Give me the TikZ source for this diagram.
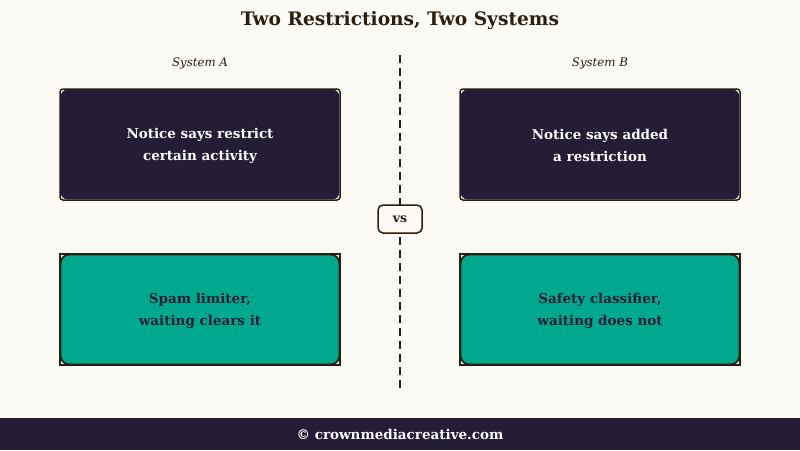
\documentclass[tikz,border=0pt]{standalone}
\usepackage{fontspec}
\setmainfont{DejaVu Serif}
\definecolor{cream}{HTML}{FDFBF6}
\definecolor{ink}{HTML}{2B1E0F}
\definecolor{navy}{HTML}{241D35}
\definecolor{teal}{HTML}{00A88E}
\tikzset{
  outerframe/.style={draw=ink, line width=1.2pt},
  darkframe/.style={draw=ink, line width=1.5pt, rounded corners=3pt},
  darkbox/.style={fill=navy, rounded corners=7pt},
  greenbox/.style={fill=teal, draw=ink, line width=1.8pt, rounded corners=9pt},
  boxtext/.style={align=center, font=\bfseries\fontsize{13.5}{22}\selectfont},
  syslabel/.style={font=\itshape\fontsize{11.8}{14}\selectfont, text=ink},
}
\begin{document}
\begin{tikzpicture}[x=1pt,y=-1pt]
\fill[cream] (0,0) rectangle (800,450);
\useasboundingbox (0,0) rectangle (800,450);
% footer
\fill[navy] (0,418) rectangle (800,450);
\node[text=white, font=\bfseries\fontsize{13.5}{16}\selectfont] (footer) at (400,434) {© crownmediacreative.com};
% title
\node[text=ink, font=\bfseries\fontsize{18.6}{22}\selectfont] (title) at (400,20) {Two Restrictions, Two Systems};
\node[syslabel] (sa) at (200,63) {System A};
\node[syslabel] (sb) at (600,63) {System B};
% divider
\coordinate (dtop) at (400,55);
\coordinate (dbot) at (400,390);
\draw[ink, line width=2pt, dash pattern=on 8pt off 5pt] (dtop) -- (dbot);
% vs
\node[draw=ink, line width=1.5pt, fill=cream, rounded corners=5pt, minimum width=44pt, minimum height=28pt, text=ink, font=\bfseries\fontsize{12.5}{15}\selectfont] (vs) at (400,219) {vs};
% dark boxes
\foreach \cx/\nm/\txt in {200/na/{Notice says restrict\\certain activity}, 600/nb/{Notice says added\\a restriction}} {
  \draw[darkframe] (\cx-140,89) rectangle (\cx+140,200);
  \fill[darkbox] (\cx-139.4,89.6) rectangle (\cx+139.4,199.4);
  \node[boxtext, text=white] (\nm) at (\cx,145.5) {\txt};
}
\foreach \cx/\nm/\txt in {200/ga/{Spam limiter,\\waiting clears it}, 600/gb/{Safety classifier,\\waiting does not}} {
  \draw[outerframe] (\cx-140,254) rectangle (\cx+140,365);
  \draw[greenbox] (\cx-139.5,254.5) rectangle (\cx+139.5,364.5);
  \node[boxtext, text=navy] (\nm) at (\cx,311) {\txt};
}
\end{tikzpicture}
\end{document}
